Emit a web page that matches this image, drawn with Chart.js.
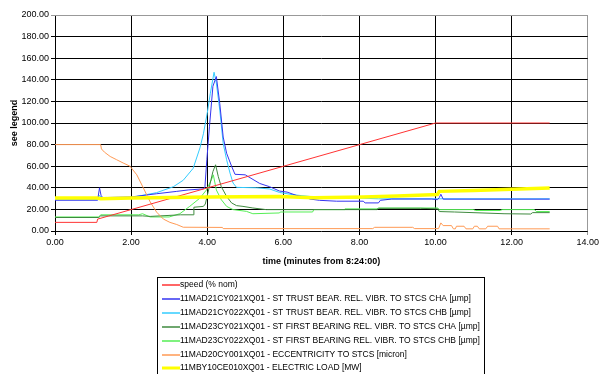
<!DOCTYPE html>
<html><head><meta charset="utf-8">
<script src="https://cdn.jsdelivr.net/npm/chart.js@4.4.0/dist/chart.umd.min.js"></script>
<style>html,body{margin:0;padding:0;background:#fff;}</style>
</head><body>
<canvas id="c" width="601" height="374"></canvas>
<script>
// ---- data (time in minutes from 8:24:00) ----
const xTicks = [0, 2, 4, 6, 8, 10, 12, 14];
const yTicks = [0, 20, 40, 60, 80, 100, 120, 140, 160, 180, 200];

const seriesNames = [
  "speed (% nom)",
  "11MAD21CY021XQ01 - ST TRUST BEAR. REL. VIBR. TO STCS CHA [\u00b5mp]",
  "11MAD21CY022XQ01 - ST TRUST BEAR. REL. VIBR. TO STCS CHB [\u00b5mp]",
  "11MAD23CY021XQ01 - ST FIRST BEARING REL. VIBR. TO STCS CHA [\u00b5mp]",
  "11MAD23CY022XQ01 - ST FIRST BEARING REL. VIBR. TO STCS CHB [\u00b5mp]",
  "11MAD20CY001XQ01 - ECCENTRICITY TO STCS [micron]",
  "11MBY10CE010XQ01 - ELECTRIC LOAD [MW]"
];

const speedT = [0, 1.1, 1.12, 10.0, 13.0];
const speedV = [8, 8, 11, 100, 100];

const chaT = [0, 1.12, 1.17, 1.21, 1.25, 1.3, 1.35, 2.0, 2.67, 3.2, 3.5, 3.9, 3.94, 3.99, 4.06, 4.15, 4.24, 4.33, 4.42, 4.51, 4.64, 4.73, 5.0, 5.38, 5.64, 5.9, 6.1, 6.34, 6.6, 6.7, 6.95, 7.4, 8.1, 8.15, 8.5, 8.55, 8.85, 9.9, 10.05, 10.1, 10.14, 10.2, 13.0];
const chaV = [28.5, 28.5, 40, 33, 31, 30, 31, 31.5, 34.5, 36.7, 38, 39, 41, 66, 97, 134, 143, 118, 87, 72, 60, 52.5, 52, 44, 41, 37, 36, 33, 31, 29.6, 28.4, 27.6, 27.6, 26, 26, 28.4, 29.6, 29.6, 29, 31, 34, 29.5, 29.5];

const chbT = [0, 1.12, 1.17, 1.25, 2.0, 2.67, 3.11, 3.37, 3.63, 3.81, 3.9, 4.0, 4.08, 4.18, 4.24, 4.33, 4.42, 4.51, 4.6, 4.68, 4.77, 5.3, 5.64, 5.9, 6.25, 6.69, 7.0, 8.0, 8.5, 13.0];
const chbV = [29, 29, 33, 30, 31, 35.5, 41, 47, 58, 77, 90, 109, 127, 147, 137, 112, 81, 66, 53.6, 44.4, 40.4, 40, 38.9, 35.7, 33.6, 32, 31, 30.5, 29.8, 29.8];

const fbaT = [0, 1.15, 1.2, 1.4, 2.3, 2.5, 3.3, 3.63, 3.65, 3.9, 3.95, 4.05, 4.15, 4.22, 4.29, 4.37, 4.51, 4.64, 4.77, 4.94, 5.2, 5.55, 8.45, 8.5, 9.6, 10.06, 10.1, 10.5, 11.8, 12.5, 12.55, 13.0];
const fbaV = [12.5, 12.5, 14, 14, 14, 13.5, 15, 15, 22, 22.8, 25, 40, 55, 61.3, 50.5, 41, 32, 26, 23.5, 22.8, 21.3, 19.8, 19.8, 21, 21, 20.5, 18, 17.6, 16, 15.7, 17, 17];

const fbbT = [0, 1.15, 1.2, 2.2, 2.3, 2.5, 3.0, 3.28, 3.54, 3.81, 3.98, 4.11, 4.16, 4.24, 4.37, 4.51, 4.68, 5.03, 5.2, 5.9, 5.92, 6.77, 6.8, 7.6, 7.62, 8.48, 8.5, 10.06, 10.1, 11.0, 11.05, 11.7, 11.75, 12.6, 12.65, 13.0];
const fbbV = [13, 13, 15, 15, 16, 13, 13, 16, 22.8, 30.5, 38, 47.5, 52, 38, 29, 22.8, 19.8, 18.2, 16, 16.7, 17.6, 17.6, 19.8, 19.8, 20.5, 20.5, 21.3, 21.3, 19.8, 19.8, 19, 19, 19.8, 19.8, 18, 18];

const eccT = [0, 1.2, 1.22, 1.3, 1.45, 1.62, 1.79, 1.97, 2.15, 2.32, 2.5, 2.67, 2.85, 3.02, 3.2, 3.37, 4.4, 4.42, 8.35, 8.4, 9.4, 9.45, 10.08, 10.14, 10.2, 10.42, 10.47, 10.52, 10.55, 10.75, 10.8, 10.98, 11.02, 11.1, 11.15, 11.32, 11.37, 11.63, 11.67, 13.0];
const eccV = [80, 80, 76, 73, 69, 66, 63, 60, 52, 40, 27, 17.5, 11, 8, 6, 3.5, 3.3, 2.2, 2.2, 3.4, 3.4, 2.2, 2.2, 7.5, 5, 5, 2, 2, 4.4, 4.4, 2, 2, 4.4, 4.4, 2, 2, 4.4, 4.4, 2, 2];

const loadT = [0, 1.1, 1.2, 2.0, 4.0, 5.9, 6.8, 8.1, 9.0, 9.9, 10.05, 10.1, 11.0, 12.0, 13.0];
const loadV = [30.5, 30.5, 29.8, 30.5, 31.5, 32, 30.8, 31.5, 32.5, 33.6, 33.8, 36.7, 37.5, 38.6, 39.8];

// ---- build ----
const pts = (t, v) => t.map((x, i) => ({x: x, y: v[i]}));
const colors = ['#ff3333', '#3535f0', '#33ccff', '#3f8a3f', '#55ee55', '#ff9a55', '#ffff00'];
const widths = [1, 1, 1, 1, 1, 1, 3.5];
const allT = [speedT, chaT, chbT, fbaT, fbbT, eccT, loadT];
const allV = [speedV, chaV, chbV, fbaV, fbbV, eccV, loadV];
const orders = [1, 3, 4, 5, 6, 2, 0];

const datasets = seriesNames.map((n, i) => ({
  label: n,
  data: pts(allT[i], allV[i]),
  borderColor: colors[i],
  backgroundColor: colors[i],
  borderWidth: widths[i],
  pointRadius: 0,
  tension: 0,
  fill: false,
  order: orders[i]
}));

const FONT = "'Liberation Sans', Arial, sans-serif";

const boxLegend = {
  id: 'boxLegend',
  afterDraw(chart) {
    const ctx = chart.ctx;
    ctx.save();
    const bx = 157.5, by = 277.5, bw = 327, bh = 110;
    ctx.fillStyle = '#fff';
    ctx.fillRect(bx, by, bw, bh);
    ctx.strokeStyle = '#000';
    ctx.lineWidth = 1;
    ctx.strokeRect(bx, by, bw, bh);
    ctx.font = '8.5px ' + FONT;
    ctx.textBaseline = 'middle';
    ctx.textAlign = 'left';
    seriesNames.forEach((name, i) => {
      const y = Math.round(285 + i * 13.9);
      ctx.strokeStyle = colors[i];
      ctx.lineWidth = i === 6 ? 3 : 1.5;
      ctx.beginPath();
      ctx.moveTo(162, y);
      ctx.lineTo(180, y);
      ctx.stroke();
      ctx.fillStyle = '#000';
      ctx.fillText(name, 180, y);
    });
    ctx.restore();
  }
};

new Chart(document.getElementById('c'), {
  type: 'line',
  data: { datasets: datasets },
  options: {
    responsive: false,
    animation: false,
    layout: { padding: { left: 0, right: 12, top: 15, bottom: 103 } },
    plugins: { legend: { display: false }, tooltip: { enabled: false } },
    scales: {
      x: {
        type: 'linear', min: 0, max: 14,
        afterBuildTicks: s => { s.ticks = xTicks.map(v => ({value: v})); },
        afterFit: s => { s.height = 40; },
        ticks: { font: { size: 9, family: FONT }, color: '#000', padding: 2, maxRotation: 0,
                 callback: v => v.toFixed(2) },
        grid: { color: c => c.tick && c.tick.value === 14 ? '#999' : '#000', lineWidth: 1, tickLength: 4 },
        border: { display: false },
        title: { display: true, text: 'time (minutes from 8:24:00)', color: '#000',
                 font: { size: 9, weight: 'bold', family: FONT }, padding: { top: 2, bottom: 4 } }
      },
      y: {
        type: 'linear', min: 0, max: 200,
        afterBuildTicks: s => { s.ticks = yTicks.map(v => ({value: v})); },
        afterFit: s => { s.width = 55; },
        ticks: { font: { size: 9, family: FONT }, color: '#000', padding: 2,
                 callback: v => v.toFixed(2) },
        grid: { color: c => c.tick && c.tick.value === 200 ? '#999' : '#000', lineWidth: 1, tickLength: 4 },
        border: { display: false },
        title: { display: true, text: 'see legend', color: '#000',
                 font: { size: 9, weight: 'bold', family: FONT }, padding: { top: 9, bottom: 0 } }
      }
    }
  },
  plugins: [boxLegend]
});
</script>
</body></html>
